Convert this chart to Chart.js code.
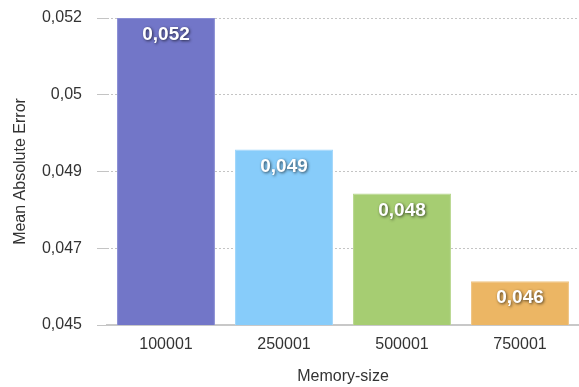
<!DOCTYPE html>
<html>
<head>
<meta charset="utf-8">
<script src="https://cdn.jsdelivr.net/npm/chart.js@4"></script>
<style>
  html, body { margin: 0; padding: 0; background: #fff; }
  #wrap { width: 579px; height: 387px; }
</style>
</head>
<body>
<div id="wrap"><canvas id="maeChart" width="579" height="387"></canvas></div>
<script>
// memory sizes and the error measured for each
const memorySizes = ['100001', '250001', '500001', '750001'];
const maeValues = [0.052, 0.049, 0.048, 0.046];
const barColors = ['#7276c8', '#87ccfa', '#a6cd72', '#ecb664'];
const barBorders = ['#8a8ed4', '#9fd6fb', '#b8d78e', '#f0c482'];

// y axis: five evenly spaced lines between 0.045 and 0.052
const yTickValues = [0.045, 0.04675, 0.0485, 0.05025, 0.052];
const yTickLabels = ['0,045', '0,047', '0,049', '0,05', '0,052'];

const fontFamily = '"Liberation Sans", Arial, Helvetica, sans-serif';

const fmt = v => v.toFixed(3).replace('.', ',');

// white value text with a soft dark shadow inside each bar
const valueLabels = {
  id: 'valueLabels',
  afterDatasetsDraw(chart) {
    const ctx = chart.ctx;
    const meta = chart.getDatasetMeta(0);
    ctx.save();
    ctx.font = 'bold 19px ' + fontFamily;
    ctx.fillStyle = '#fff';
    ctx.textAlign = 'center';
    ctx.textBaseline = 'middle';
    ctx.shadowColor = 'rgba(0,0,0,0.65)';
    ctx.shadowBlur = 3;
    ctx.shadowOffsetX = 1;
    ctx.shadowOffsetY = 1;
    meta.data.forEach((bar, i) => {
      ctx.fillText(fmt(maeValues[i]), bar.x, bar.y + 17);
    });
    ctx.restore();
  }
};

new Chart(document.getElementById('maeChart'), {
  type: 'bar',
  data: {
    labels: memorySizes,
    datasets: [{
      data: maeValues,
      backgroundColor: barColors,
      borderColor: barBorders,
      borderWidth: 1,
      barPercentage: 0.83,
      categoryPercentage: 1
    }]
  },
  options: {
    responsive: false,
    animation: false,
    layout: { padding: { top: 18, right: 0, bottom: 0, left: 0 } },
    plugins: { legend: { display: false }, tooltip: { enabled: false } },
    scales: {
      x: {
        grid: { display: false, drawTicks: false },
        border: { display: true, color: '#c8c8c8', width: 2 },
        ticks: { padding: 10, color: '#333', font: { family: fontFamily, size: 16 } },
        title: {
          display: true,
          text: 'Memory-size',
          color: '#333',
          font: { family: fontFamily, size: 16 },
          padding: { top: 0, bottom: 1 }
        },
        afterFit(scale) {
          scale.height = 62;
          scale.paddingLeft = 0;
          scale.paddingRight = 0;
        }
      },
      y: {
        min: 0.045,
        max: 0.052,
        afterBuildTicks(axis) {
          axis.ticks = yTickValues.map(v => ({ value: v }));
        },
        grid: { color: '#c4c4c4', drawTicks: true, tickLength: 10, lineWidth: 1 },
        border: { display: false, dash: [2, 2] },
        ticks: {
          padding: 15,
          color: '#333',
          font: { family: fontFamily, size: 16 },
          callback: (v, i) => yTickLabels[i]
        },
        title: {
          display: true,
          text: 'Mean Absolute Error',
          color: '#333',
          font: { family: fontFamily, size: 16 },
          padding: { top: 11, bottom: 0 }
        },
        afterFit(scale) {
          scale.width = 107;
          scale.paddingTop = 0;
          scale.paddingBottom = 0;
        }
      }
    }
  },
  plugins: [valueLabels]
});
</script>
</body>
</html>
